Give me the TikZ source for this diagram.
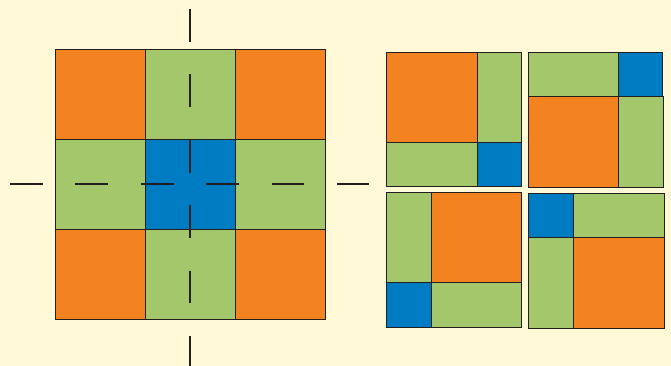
\documentclass[tikz,border=0pt]{standalone}
\definecolor{bg}{HTML}{FFF9D7}
\definecolor{org}{HTML}{F38221}
\definecolor{grn}{HTML}{A3C76A}
\definecolor{blu}{HTML}{007CC2}
\definecolor{ln}{HTML}{231F20}
\begin{document}
\begin{tikzpicture}[x=1pt,y=-1pt,
  cell/.style={draw=ln, line width=1pt},
  cut/.style={draw=ln, line width=1.8pt, dash pattern=on 32.7pt off 32.7pt}]
\fill[bg] (0,0) rectangle (671,366);
\useasboundingbox (0,0) rectangle (671,366);
% big 3x3 grid
\filldraw[cell, fill=org] (55.3,49.3) rectangle (145.3,139.3);
\filldraw[cell, fill=grn] (145.3,49.3) rectangle (235.3,139.3);
\filldraw[cell, fill=org] (235.3,49.3) rectangle (325,139.3);
\filldraw[cell, fill=grn] (55.3,139.3) rectangle (145.3,229.3);
\filldraw[cell, fill=blu] (145.3,139.3) rectangle (235.3,229.3);
\filldraw[cell, fill=grn] (235.3,139.3) rectangle (325,229.3);
\filldraw[cell, fill=org] (55.3,229.3) rectangle (145.3,319);
\filldraw[cell, fill=grn] (145.3,229.3) rectangle (235.3,319);
\filldraw[cell, fill=org] (235.3,229.3) rectangle (325,319);
% cut lines
\coordinate (vt) at (189.7,9);
\coordinate (vb) at (189.7,366);
\coordinate (hl) at (10,183.7);
\coordinate (hr) at (369.4,183.7);
\draw[cut] (vt) -- (vb);
\draw[cut] (hl) -- (hr);
% piece 1 (top-left)
\filldraw[cell, fill=org] (386.3,52.3) rectangle (477,142.3);
\filldraw[cell, fill=grn] (477,52.3) rectangle (521.7,142.3);
\filldraw[cell, fill=grn] (386.3,142.3) rectangle (477,186.7);
\filldraw[cell, fill=blu] (477,142.3) rectangle (521.7,186.7);
% piece 2 (top-right)
\filldraw[cell, fill=grn] (528.7,52.3) rectangle (618,96.7);
\filldraw[cell, fill=blu] (618,52.3) rectangle (662.7,96.7);
\filldraw[cell, fill=org] (528.7,96.7) rectangle (618.7,187.3);
\filldraw[cell, fill=grn] (618.7,96.7) rectangle (663.3,187.3);
% piece 3 (bottom-left)
\filldraw[cell, fill=grn] (386.7,192.3) rectangle (431.3,282.7);
\filldraw[cell, fill=org] (431.3,192.3) rectangle (521.7,282.7);
\filldraw[cell, fill=blu] (386.7,282.7) rectangle (431.3,327.3);
\filldraw[cell, fill=grn] (431.3,282.7) rectangle (521.7,327.3);
% piece 4 (bottom-right)
\filldraw[cell, fill=blu] (528.7,193.3) rectangle (573.7,237.7);
\filldraw[cell, fill=grn] (573.7,193.3) rectangle (664,237.7);
\filldraw[cell, fill=grn] (528.7,237.7) rectangle (573.7,328.3);
\filldraw[cell, fill=org] (573.7,237.7) rectangle (664,328.3);
\end{tikzpicture}
\end{document}
